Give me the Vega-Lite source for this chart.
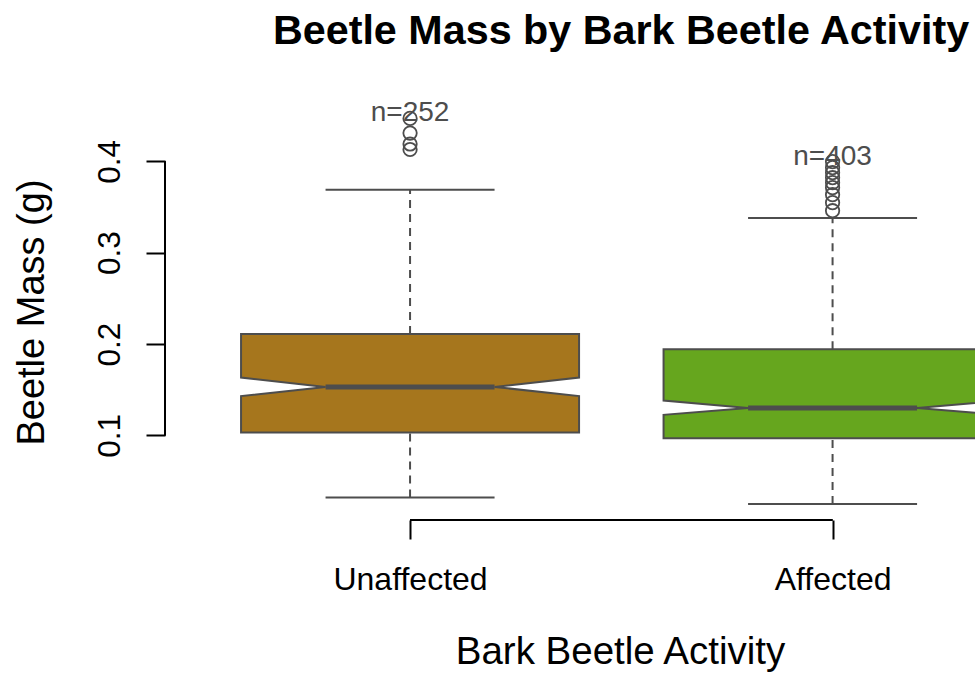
{
  "$schema": "https://vega.github.io/schema/vega-lite/v6.json",
  "width": 810,
  "height": 415,
  "autosize": {"type": "none"},
  "padding": {"left": 165, "top": 105, "right": 0, "bottom": 157},
  "background": "white",
  "config": {
    "view": {"stroke": null},
    "font": "Liberation Sans"
  },
  "title": {
    "text": "Beetle Mass by Bark Beetle Activity",
    "font": "Liberation Sans",
    "fontSize": 41.3,
    "fontWeight": "bold",
    "color": "black",
    "anchor": "middle",
    "frame": "group",
    "baseline": "alphabetic",
    "offset": 14,
    "dx": 51
  },
  "datasets": {
    "stats": [
      {"activity": "Unaffected", "pos": 1, "n": 252, "lower": 0.0319, "q1": 0.1031, "notch_lo": 0.1430, "median": 0.1531, "notch_hi": 0.1633, "q3": 0.2109, "upper": 0.369, "top": 0.447},
      {"activity": "Affected", "pos": 2, "n": 403, "lower": 0.0249, "q1": 0.0969, "notch_lo": 0.1225, "median": 0.1301, "notch_hi": 0.1381, "q3": 0.1944, "upper": 0.338, "top": 0.3997}
    ],
    "outliers": [
      {"activity": "Unaffected", "mass": 0.447},
      {"activity": "Unaffected", "mass": 0.431},
      {"activity": "Unaffected", "mass": 0.419},
      {"activity": "Unaffected", "mass": 0.413},
      {"activity": "Affected", "mass": 0.3997},
      {"activity": "Affected", "mass": 0.3931},
      {"activity": "Affected", "mass": 0.3876},
      {"activity": "Affected", "mass": 0.3821},
      {"activity": "Affected", "mass": 0.3767},
      {"activity": "Affected", "mass": 0.3712},
      {"activity": "Affected", "mass": 0.3635},
      {"activity": "Affected", "mass": 0.3548},
      {"activity": "Affected", "mass": 0.3460}
    ]
  },
  "data": {"name": "stats"},
  "layer": [
    {
      "transform": [
        {"fold": ["q1", "notch_lo", "median", "notch_hi", "q3"], "as": ["stat", "mass"]},
        {"calculate": "datum.stat == 'median' ? 0.5 : 1", "as": "w"},
        {"calculate": "datum.pos - 0.4 * datum.w", "as": "xl"},
        {"calculate": "datum.pos + 0.4 * datum.w", "as": "xr"}
      ],
      "mark": {"type": "area", "orient": "horizontal", "stroke": "#4D4D4D", "strokeWidth": 2, "clip": true, "opacity": 1, "fillOpacity": 1},
      "encoding": {
        "y": {"field": "mass", "type": "quantitative", "stack": null, "scale": {"domain": [0.0074, 0.4617], "nice": false, "zero": false},
          "axis": {"values": [0.1, 0.2, 0.3, 0.4], "format": ".1f", "domain": false, "grid": false,
            "tickSize": 19, "tickWidth": 2, "tickColor": "black", "labelFontSize": 31.5, "labelColor": "black", "labelFont": "Liberation Sans",
            "labelAngle": -90, "labelAlign": "center", "labelBaseline": "alphabetic", "labelPadding": 27, "labelFlush": false, "labelOverlap": false,
            "title": "Beetle Mass (g)", "titleFontSize": 38, "titleFontWeight": "normal", "titleColor": "black", "titleFont": "Liberation Sans",
            "titleAngle": -90, "titleAlign": "center", "titleBaseline": "alphabetic", "titleX": -122, "titleY": 207}},
        "x": {"field": "xl", "type": "quantitative", "stack": null, "scale": {"domain": [0.42, 2.3371], "nice": false, "zero": false},
          "axis": {"values": [1, 2], "labelExpr": "datum.value == 1 ? 'Unaffected' : 'Affected'", "domain": false, "grid": false,
            "tickSize": 19, "tickWidth": 2, "tickColor": "black", "labelFontSize": 32, "labelColor": "black", "labelFont": "Liberation Sans",
            "labelBaseline": "alphabetic", "labelPadding": 50, "labelAngle": 0, "labelAlign": "center", "labelFlush": false, "labelOverlap": false,
            "title": "Bark Beetle Activity", "titleFontSize": 38.5, "titleFontWeight": "normal", "titleColor": "black", "titleFont": "Liberation Sans",
            "titleBaseline": "alphabetic", "titleAnchor": "middle", "titleX": 455, "titleY": 143}},
        "x2": {"field": "xr"},
        "color": {"field": "activity", "type": "nominal", "scale": {"domain": ["Unaffected", "Affected"], "range": ["#A6761D", "#66A61E"]}, "legend": null}
      }
    },
    {
      "mark": {"type": "rule", "color": "#4D4D4D", "strokeWidth": 2, "strokeDash": [8, 6], "clip": true},
      "encoding": {
        "x": {"field": "pos", "type": "quantitative"},
        "y": {"field": "q3", "type": "quantitative"},
        "y2": {"field": "upper"}
      }
    },
    {
      "mark": {"type": "rule", "color": "#4D4D4D", "strokeWidth": 2, "strokeDash": [8, 6], "clip": true},
      "encoding": {
        "x": {"field": "pos", "type": "quantitative"},
        "y": {"field": "lower", "type": "quantitative"},
        "y2": {"field": "q1"}
      }
    },
    {
      "transform": [{"calculate": "datum.pos - 0.2", "as": "s1"}, {"calculate": "datum.pos + 0.2", "as": "s2"}],
      "mark": {"type": "rule", "color": "#4D4D4D", "strokeWidth": 2, "clip": true},
      "encoding": {
        "x": {"field": "s1", "type": "quantitative"},
        "x2": {"field": "s2"},
        "y": {"field": "upper", "type": "quantitative"}
      }
    },
    {
      "transform": [{"calculate": "datum.pos - 0.2", "as": "s1"}, {"calculate": "datum.pos + 0.2", "as": "s2"}],
      "mark": {"type": "rule", "color": "#4D4D4D", "strokeWidth": 2, "clip": true},
      "encoding": {
        "x": {"field": "s1", "type": "quantitative"},
        "x2": {"field": "s2"},
        "y": {"field": "lower", "type": "quantitative"}
      }
    },
    {
      "transform": [{"calculate": "datum.pos - 0.2", "as": "m1"}, {"calculate": "datum.pos + 0.2", "as": "m2"}],
      "mark": {"type": "rule", "color": "#4D4D4D", "strokeWidth": 5, "clip": true},
      "encoding": {
        "x": {"field": "m1", "type": "quantitative"},
        "x2": {"field": "m2"},
        "y": {"field": "median", "type": "quantitative"}
      }
    },
    {
      "data": {"name": "outliers"},
      "transform": [{"lookup": "activity", "from": {"data": {"name": "stats"}, "key": "activity", "fields": ["pos"]}}],
      "mark": {"type": "point", "shape": "circle", "filled": false, "size": 180, "stroke": "#4D4D4D", "strokeWidth": 1.8, "opacity": 1, "clip": true},
      "encoding": {
        "x": {"field": "pos", "type": "quantitative"},
        "y": {"field": "mass", "type": "quantitative"}
      }
    },
    {
      "transform": [{"calculate": "'n=' + datum.n", "as": "label"}],
      "mark": {"type": "text", "font": "Liberation Sans", "fontSize": 28, "color": "#4D4D4D", "align": "center", "baseline": "alphabetic", "dy": 3},
      "encoding": {
        "x": {"field": "pos", "type": "quantitative"},
        "y": {"field": "top", "type": "quantitative"},
        "text": {"field": "label"}
      }
    },
    {
      "mark": {"type": "rule", "color": "black", "strokeWidth": 2},
      "encoding": {
        "x": {"datum": 0.42, "type": "quantitative"},
        "y": {"datum": 0.1, "type": "quantitative"},
        "y2": {"datum": 0.4}
      }
    },
    {
      "mark": {"type": "rule", "color": "black", "strokeWidth": 2},
      "encoding": {
        "x": {"datum": 1, "type": "quantitative"},
        "x2": {"datum": 2},
        "y": {"datum": 0.0074, "type": "quantitative"}
      }
    }
  ]
}
